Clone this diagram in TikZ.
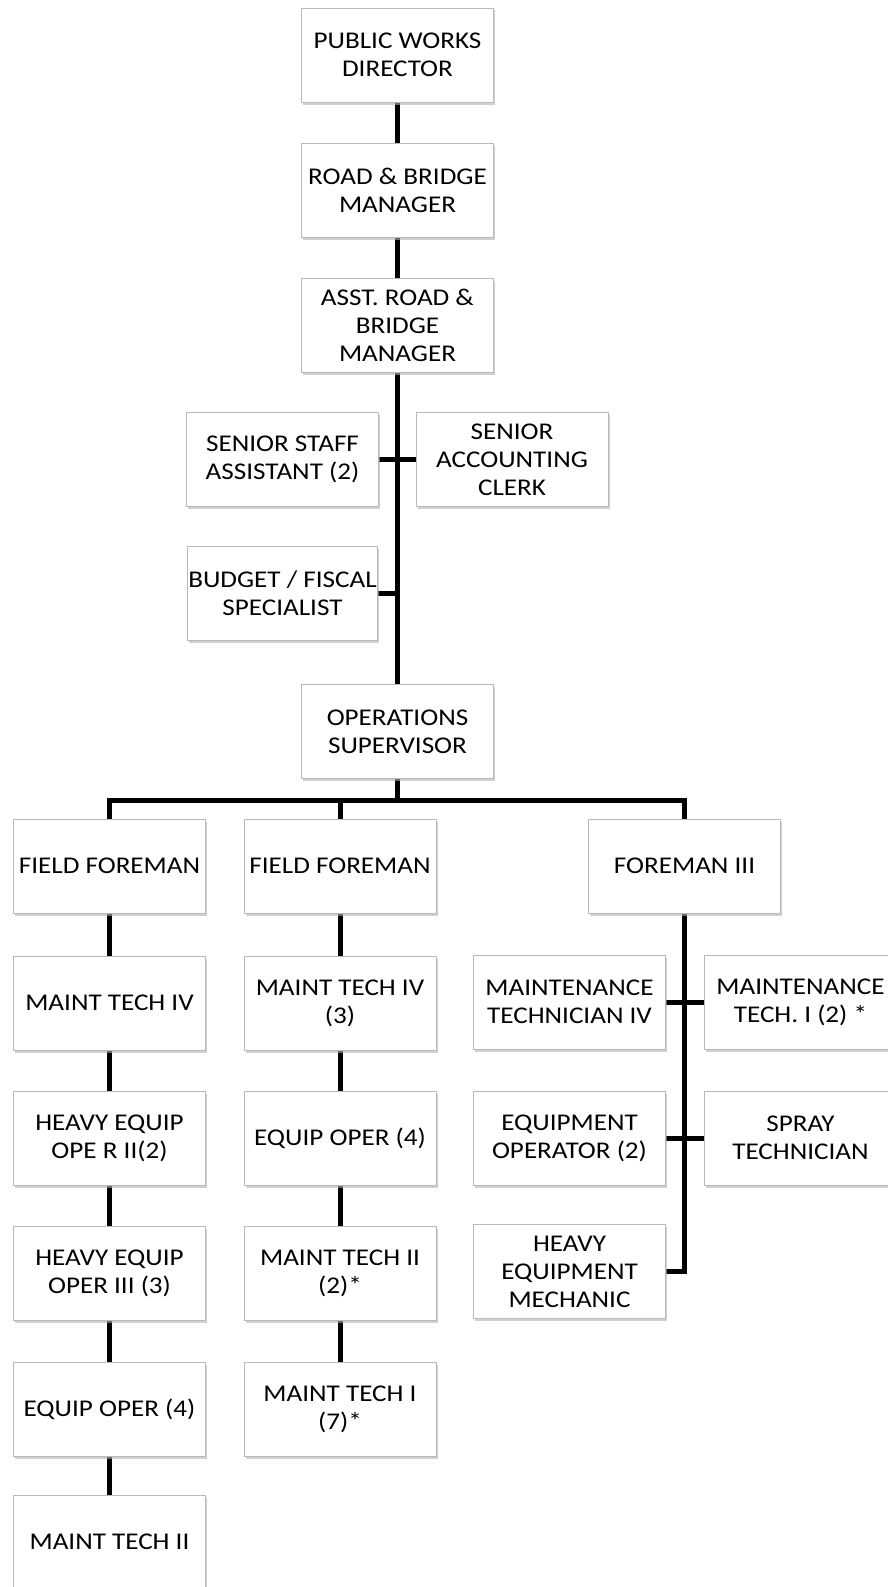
\documentclass[tikz,border=0pt]{standalone}
\usepackage{fontspec}
\setmainfont{Carlito}[FakeStretch=1.13]
\usetikzlibrary{positioning, shadows, backgrounds}

\begin{document}
\begin{tikzpicture}[
    x=1pt, y=1pt,
    node distance=135pt,
    on grid,
    post/.style={
        draw=gray!55, fill=white, line width=0.8pt,
        minimum width=192pt, minimum height=94pt,
        inner sep=0pt, align=center,
        font=\fontsize{24}{28}\selectfont,
        drop shadow={shadow xshift=1.5pt, shadow yshift=-2.5pt,
                     fill=gray!60, opacity=0.6},
    },
    link/.style={line width=5pt, black},
]

    \useasboundingbox (0,0) rectangle (888,-1587);

    % chain of command
    \node[post] (dir) at (397.5,-55) {PUBLIC WORKS\\DIRECTOR};
    \node[post, below =of dir]  (mgr)  {ROAD \& BRIDGE\\MANAGER};
    \node[post, below =of mgr]  (asst) {ASST. ROAD \&\\BRIDGE\\MANAGER};

    % office staff
    \node[post, below left =134.5 and 115 of asst]  (staff)  {SENIOR STAFF\\ASSISTANT (2)};
    \node[post, below right=134.5 and 114.5 of asst] (acct)  {SENIOR\\ACCOUNTING\\CLERK};
    \node[post, minimum width=190pt, below =134 of staff] (budget) {BUDGET / FISCAL\\SPECIALIST};

    \node[post] (ops) at (397.5,-731.5) {OPERATIONS\\SUPERVISOR};

    % foremen
    \node[post, below left =134.5 and 288 of ops]  (ffa) {FIELD FOREMAN};
    \node[post, below left =134.5 and 57.5 of ops] (ffb) {FIELD FOREMAN};
    \node[post, below right=134.5 and 287 of ops]  (fm3) {FOREMAN III};

    % first field crew
    \node[post, below =137 of ffa]  (mta)  {MAINT TECH IV};
    \node[post, below =of mta]      (heqa) {HEAVY EQUIP\\OPE R II(2)};
    \node[post, below =of heqa]     (heqb) {HEAVY EQUIP\\OPER III (3)};
    \node[post, below =136 of heqb] (eqa)  {EQUIP OPER (4)};
    \node[post, below =133 of eqa]  (mtb)  {MAINT TECH II};

    % second field crew
    \node[post, below =137 of ffb]  (mtc) {MAINT TECH IV\\(3)};
    \node[post, below =of mtc]      (eqb) {EQUIP OPER (4)};
    \node[post, below =of eqb]      (mtd) {MAINT TECH II\\(2)*};
    \node[post, below =136 of mtd]  (mte) {MAINT TECH I\\(7)*};

    % foreman III crew
    \node[post, below left =136 and 115 of fm3]  (mtiv)  {MAINTENANCE\\TECHNICIAN IV};
    \node[post, below right=136 and 116 of fm3]  (mtone) {MAINTENANCE\\TECH. I (2) *};
    \node[post, below =136 of mtiv]  (eqop)  {EQUIPMENT\\OPERATOR (2)};
    \node[post, below =136 of mtone] (spray) {SPRAY\\TECHNICIAN};
    \node[post, below =133.5 of eqop] (hem)  {HEAVY\\EQUIPMENT\\MECHANIC};

    \coordinate (bus) at (397.5,-800);

    \begin{scope}[on background layer]
    \draw[link] (dir) -- (mgr);
    \draw[link] (mgr) -- (asst);
    \draw[link] (asst) -- (ops);
    \draw[link] (staff) -- (acct);
    \draw[link] (budget.east) -- (budget.east -| asst.south);

    \draw[link] (ops) -- (bus);
    \draw[link] (ffa.north) |- (bus) -| (fm3.north);
    \draw[link] (ffb.north) -- (ffb.north |- bus);

    \draw[link] (ffa) -- (mta);
    \draw[link] (mta) -- (heqa);
    \draw[link] (heqa) -- (heqb);
    \draw[link] (heqb) -- (eqa);
    \draw[link] (eqa) -- (mtb);

    \draw[link] (ffb) -- (mtc);
    \draw[link] (mtc) -- (eqb);
    \draw[link] (eqb) -- (mtd);
    \draw[link] (mtd) -- (mte);

    \draw[link] (fm3.south) |- (hem.east);
    \draw[link] (mtiv) -- (mtone);
    \draw[link] (eqop) -- (spray);
    \end{scope}

\end{tikzpicture}
\end{document}
